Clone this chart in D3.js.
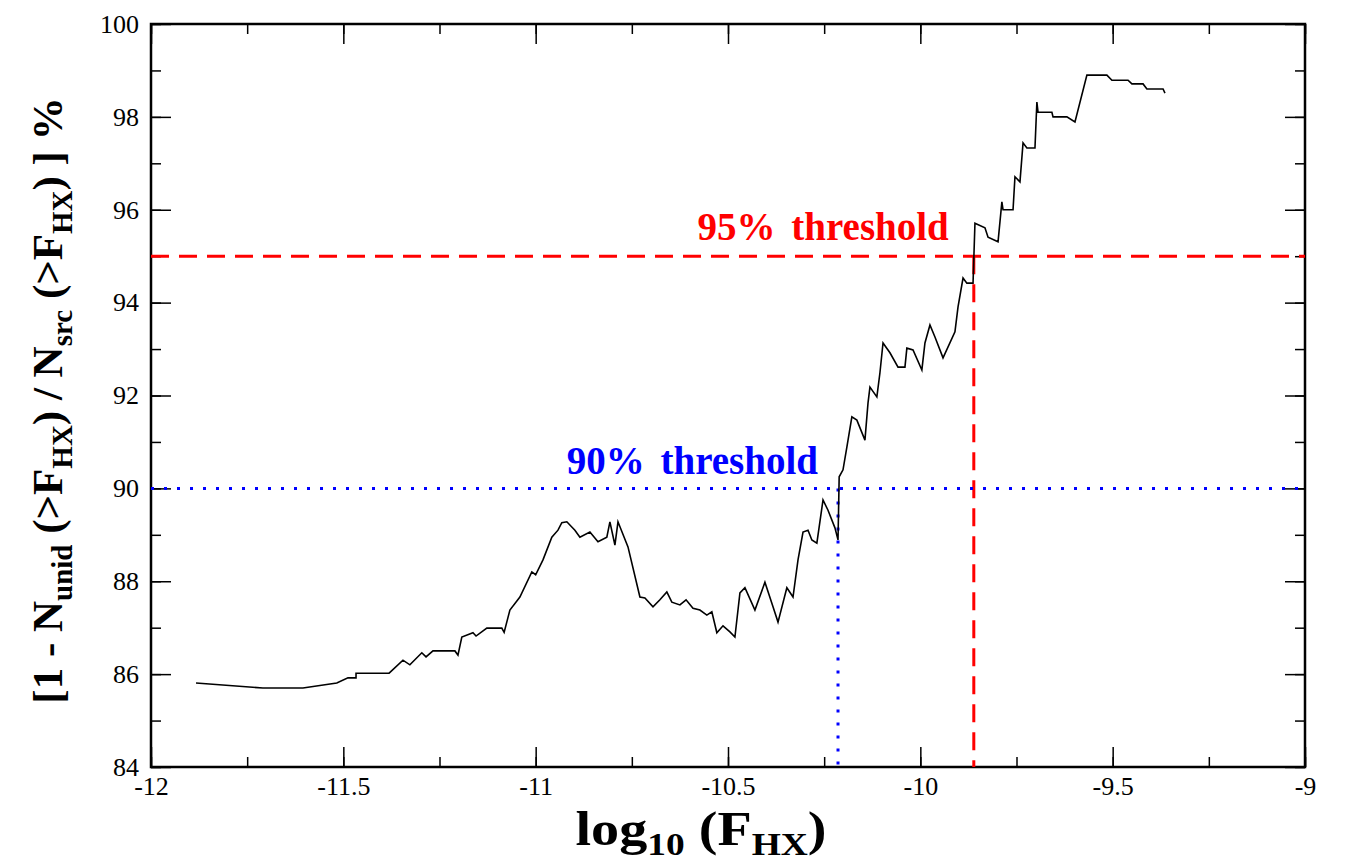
<!DOCTYPE html>
<html>
<head>
<meta charset="utf-8">
<script src="https://cdn.jsdelivr.net/npm/d3@7"></script>
<style>
  html, body { margin: 0; padding: 0; background: #fff; }
  svg { display: block; }
  text { font-family: "Liberation Serif", "Times New Roman", serif; }
</style>
</head>
<body>
<svg id="chart" width="1348" height="861"></svg>
<script>
// Cumulative identified fraction vs. hard X-ray flux limit
const logFlux = [
  -11.883, -11.709, -11.605, -11.517, -11.488, -11.467, -11.467, -11.381, -11.345, -11.327,
  -11.296, -11.285, -11.267, -11.210, -11.202, -11.192, -11.163, -11.155, -11.127, -11.088,
  -11.082, -11.067, -11.041, -11.010, -11.000, -10.981, -10.958, -10.942, -10.932, -10.919,
  -10.898, -10.885, -10.859, -10.838, -10.815, -10.807, -10.794, -10.786, -10.760, -10.729,
  -10.716, -10.695, -10.677, -10.659, -10.646, -10.625, -10.609, -10.591, -10.573, -10.555,
  -10.542, -10.529, -10.513, -10.495, -10.482, -10.469, -10.456, -10.430, -10.404, -10.383,
  -10.370, -10.347, -10.331, -10.318, -10.305, -10.292, -10.282, -10.269, -10.253, -10.240,
  -10.222, -10.214, -10.211, -10.201, -10.191, -10.178, -10.165, -10.144, -10.136, -10.131,
  -10.113, -10.105, -10.097, -10.079, -10.058, -10.040, -10.035, -10.019, -9.996, -9.988,
  -9.975, -9.962, -9.941, -9.910, -9.902, -9.889, -9.879, -9.863, -9.858, -9.832,
  -9.824, -9.798, -9.788, -9.785, -9.759, -9.754, -9.741, -9.733, -9.723, -9.702,
  -9.697, -9.694, -9.658, -9.655, -9.619, -9.598, -9.567, -9.515, -9.502, -9.460,
  -9.450, -9.421, -9.411, -9.369, -9.364
];
const idPercent = [
  85.81, 85.70, 85.70, 85.81, 85.92, 85.92, 86.02, 86.02, 86.30, 86.20,
  86.46, 86.37, 86.50, 86.50, 86.41, 86.80, 86.89, 86.82, 86.99, 86.99,
  86.90, 87.38, 87.66, 88.20, 88.14, 88.46, 88.95, 89.10, 89.26, 89.28,
  89.10, 88.95, 89.06, 88.85, 88.95, 89.28, 88.78, 89.28, 88.74, 87.66,
  87.64, 87.45, 87.60, 87.77, 87.55, 87.49, 87.60, 87.42, 87.38, 87.27,
  87.34, 86.89, 87.04, 86.91, 86.80, 87.75, 87.86, 87.38, 87.98, 87.45,
  87.12, 87.86, 87.66, 88.46, 89.06, 89.10, 88.89, 88.82, 89.75, 89.53,
  89.15, 88.89, 90.25, 90.40, 90.89, 91.54, 91.47, 91.04, 91.84, 92.18,
  91.97, 92.49, 93.13, 92.92, 92.61, 92.61, 93.02, 92.98, 92.55, 93.13,
  93.52, 93.26, 92.81, 93.37, 93.91, 94.53, 94.42, 94.42, 95.71, 95.61,
  95.41, 95.31, 96.17, 96.00, 96.00, 96.71, 96.60, 97.44, 97.33, 97.33,
  98.32, 98.10, 98.10, 98.00, 98.00, 97.89, 98.90, 98.90, 98.79, 98.79,
  98.71, 98.71, 98.60, 98.60, 98.51
];

// Threshold levels and the flux where the curve crosses them
const thresholdLevels = [95, 90];
const thresholdFlux = [-9.861, -10.214];
const thresholdLabels = ["95% threshold", "90% threshold"];

const xTicks = [-12, -11.5, -11, -10.5, -10, -9.5, -9];
const yTicks = [84, 86, 88, 90, 92, 94, 96, 98, 100];

const svg = d3.select("#chart");
const margin = { left: 151, right: 43, top: 24, bottom: 94 };
const W = 1348, H = 861;
const x0 = margin.left, x1 = W - margin.right, y0 = margin.top, y1 = H - margin.bottom;

const x = d3.scaleLinear().domain([-12, -9]).range([x0, x1]);
const y = d3.scaleLinear().domain([84, 100]).range([y1, y0]);

svg.append("rect").attr("width", W).attr("height", H).attr("fill", "#fff");

// Axes on all four sides, ticks pointing inward
const minorX = d3.range(-12, -8.99, 0.25);
const minorY = d3.range(84, 100.01, 1);
const serif = '"Liberation Serif", "Times New Roman", serif';
const axisStyle = g => {
  g.attr("font-family", serif);
  g.select(".domain").remove();
  g.selectAll(".tick line").attr("stroke", "#000").attr("stroke-width", 1.5);
};
const plainFmt = d => String(d); // hyphen-minus, as in the printed labels

const tickFont = "26px";
const axes = [
  { ax: d3.axisBottom(x), tr: `translate(0,${y1})`, ticks: xTicks, minor: minorX, labels: true, side: "bottom" },
  { ax: d3.axisTop(x), tr: `translate(0,${y0})`, ticks: xTicks, minor: minorX, labels: false, side: "top" },
  { ax: d3.axisLeft(y), tr: `translate(${x0},0)`, ticks: yTicks, minor: minorY, labels: true, side: "left" },
  { ax: d3.axisRight(y), tr: `translate(${x1},0)`, ticks: yTicks, minor: minorY, labels: false, side: "right" }
];
axes.forEach(a => {
  // minor ticks
  svg.append("g").attr("transform", a.tr)
    .call(a.ax.tickValues(a.minor).tickSize(-10).tickFormat(""))
    .call(axisStyle);
  // major ticks + labels
  const g = svg.append("g").attr("transform", a.tr)
    .call(a.ax.tickValues(a.ticks).tickSize(-20).tickPadding(0)
      .tickFormat(a.labels ? plainFmt : ""))
    .call(axisStyle);
  const lbl = g.selectAll(".tick text").attr("fill", "#000").style("font-size", tickFont);
  // labels are placed outside the frame, measured from the axis line
  if (a.side === "left") lbl.attr("x", -12).attr("dy", "0.32em");
  if (a.side === "bottom") lbl.attr("y", 10).attr("dy", "0.71em");
});

// frame
svg.append("rect")
  .attr("x", x0).attr("y", y0).attr("width", x1 - x0).attr("height", y1 - y0)
  .attr("fill", "none").attr("stroke", "#000").attr("stroke-width", 2.5);

// Threshold guides
const thrColors = ["#ff0000", "#0000ff"];
const thrDash = ["18,10", "3,10"];
thresholdLevels.forEach((lv, i) => {
  svg.append("line")
    .attr("x1", x0).attr("x2", x1).attr("y1", y(lv)).attr("y2", y(lv))
    .attr("stroke", thrColors[i]).attr("stroke-width", 3)
    .attr("stroke-dasharray", thrDash[i]);
  svg.append("line")
    .attr("x1", x(thresholdFlux[i])).attr("x2", x(thresholdFlux[i]))
    .attr("y1", y(lv)).attr("y2", y1)
    .attr("stroke", thrColors[i]).attr("stroke-width", 3)
    .attr("stroke-dasharray", thrDash[i]);
});

// Curve
const line = d3.line().x((d, i) => x(logFlux[i])).y((d, i) => y(idPercent[i]));
svg.append("path")
  .datum(idPercent)
  .attr("d", line)
  .attr("fill", "none").attr("stroke", "#000").attr("stroke-width", 1.6)
  .attr("stroke-linejoin", "miter");

// Threshold labels
const thrLabelPos = [
  { dx: -25, dy: -16 },
  { dx: -20, dy: -14 }
];
thresholdLabels.forEach((t, i) => {
  svg.append("text")
    .attr("x", x(thresholdFlux[i]) + thrLabelPos[i].dx)
    .attr("y", y(thresholdLevels[i]) + thrLabelPos[i].dy)
    .attr("text-anchor", "end").attr("fill", thrColors[i])
    .style("font-weight", "bold").style("font-size", "39px")
    .style("word-spacing", "6px")
    .text(t);
});

// Axis titles
const xt = svg.append("text")
  .attr("transform", `translate(${(x0 + x1) / 2 - 27},845) scale(1.17,1)`)
  .attr("text-anchor", "middle")
  .style("font-weight", "bold").style("font-size", "48px");
xt.append("tspan").text("log");
xt.append("tspan").attr("dy", 10).style("font-size", "32px").text("10");
xt.append("tspan").attr("dy", -10).text(" (F");
xt.append("tspan").attr("dy", 10).style("font-size", "32px").text("HX");
xt.append("tspan").attr("dy", -10).text(")");

const yt = svg.append("text")
  .attr("transform", `translate(62,${(y0 + y1) / 2 + 5}) rotate(-90)`)
  .attr("text-anchor", "middle")
  .style("font-weight", "bold").style("font-size", "43px");
const parts = [
  ["[1 - N", 0], ["unid", 1], [" (>F", 0], ["HX", 1], [") / N", 0], ["src", 1],
  [" (>F", 0], ["HX", 1], [") ] %", 0]
];
let prevSub = 0;
parts.forEach(([t, sub]) => {
  const ts = yt.append("tspan").text(t);
  const dy = (sub ? 10 : 0) - (prevSub ? 10 : 0);
  if (dy) ts.attr("dy", dy);
  if (sub) ts.style("font-size", "29px");
  prevSub = sub;
});
</script>
</body>
</html>
